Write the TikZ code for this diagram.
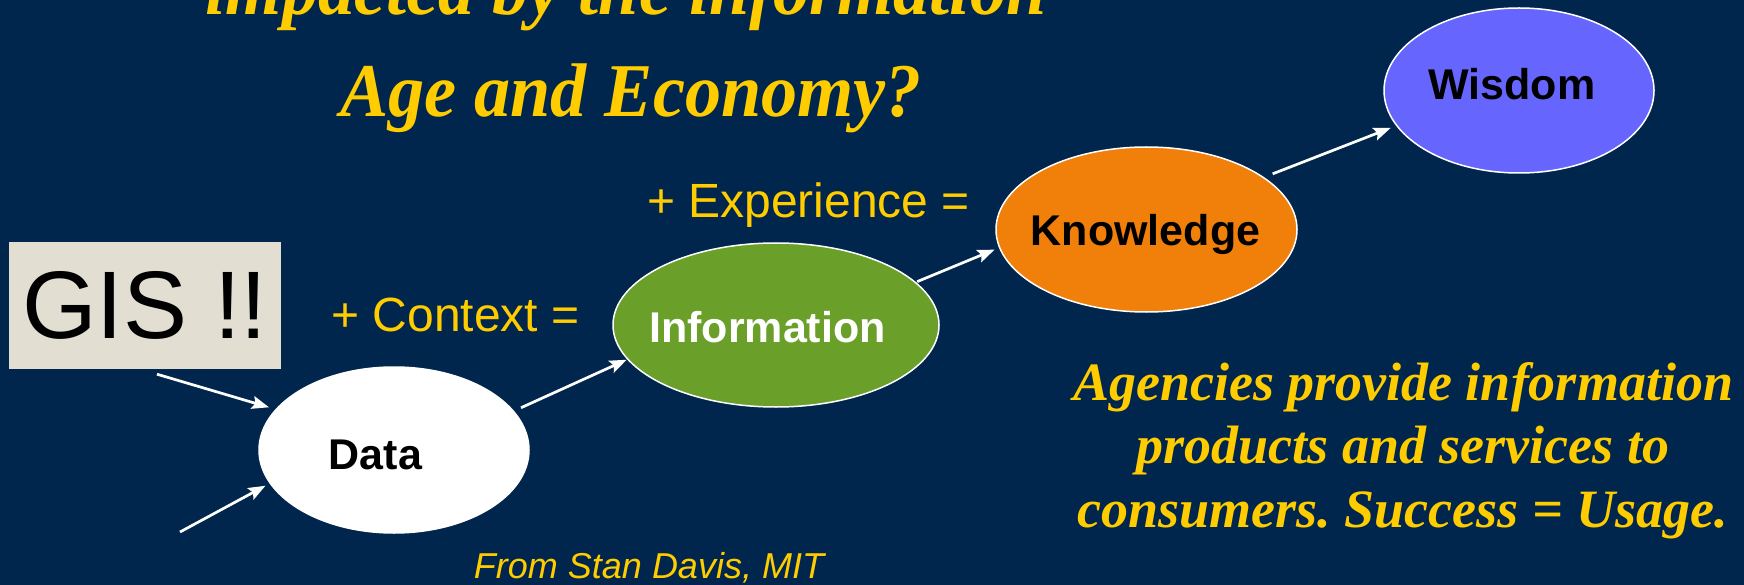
\documentclass[tikz,border=0pt]{standalone}
\usepackage{fontspec}
\setmainfont{Liberation Serif}
\newfontfamily\arialf{Liberation Sans}
\usetikzlibrary{arrows.meta,shapes.geometric}
\definecolor{bg}{RGB}{0,38,77}
\definecolor{gold}{RGB}{255,204,0}
\definecolor{infogreen}{RGB}{106,160,42}
\definecolor{knoworange}{RGB}{240,128,10}
\definecolor{wisblue}{RGB}{102,102,255}
\definecolor{gisbg}{RGB}{227,222,210}
\frenchspacing
\tikzset{
  ell/.style={ellipse, draw=white, line width=1.5pt, inner sep=0pt, outer sep=0pt},
  nlbl/.style={font=\arialf\bfseries\fontsize{43}{50}\selectfont, anchor=base, inner sep=0pt},
  plus/.style={font=\arialf\fontsize{48}{56}\selectfont, text=gold, anchor=base, inner sep=0pt},
  titlef/.style={font=\bfseries\itshape\fontsize{76}{90}\selectfont, text=gold, anchor=base, inner sep=0pt},
  agf/.style={font=\bfseries\itshape\fontsize{54}{63}\selectfont, text=gold, anchor=base, inner sep=0pt},
  arr/.style={draw=white, line width=2.7pt, -{Stealth[length=17pt,width=13pt,inset=3pt]}}
}
\begin{document}
\begin{tikzpicture}[x=1pt,y=-1pt]
\fill[bg] (0,0) rectangle (1744,585);
\useasboundingbox (0,0) rectangle (1744,585);
\clip (0,0) rectangle (1744,585);

% title
\node[titlef] (t1) at (626,15) {\scalebox{0.95}[1]{impacted by the information}};
\node[titlef] (t2) at (631,117) {\scalebox{0.95}[1]{Age and Economy?}};

% GIS box
\node[fill=gisbg, minimum width=272pt, minimum height=127pt, inner sep=0pt,
      font=\arialf\fontsize{96}{110}\selectfont] (gis) at (145,305.5) {GIS !!};

% ellipses
\node[ell, fill=white, minimum width=270pt, minimum height=166pt] (data) at (394,450) {};
\node[ell, fill=infogreen, minimum width=326pt, minimum height=164pt] (info) at (776,325) {};
\node[ell, fill=knoworange, minimum width=301pt, minimum height=165pt] (know) at (1146.5,229.5) {};
\node[ell, fill=wisblue, minimum width=270pt, minimum height=165pt] (wis) at (1519,90.5) {};

\node[nlbl, text=black] (datalbl) at (375.5,469) {Data};
\node[nlbl, text=white] (infolbl) at (767.5,342) {Information};
\node[nlbl, text=black] (knowlbl) at (1145.5,246) {Knowledge};
\node[nlbl, text=black] (wislbl) at (1512,100) {Wisdom};

% operator labels
\node[plus] (ctx) at (455.5,331) {+ Context =};
\node[plus] (exp) at (808.5,218) {+ Experience =};

% arrows
\coordinate (src) at (180,532);
\draw[arr, shorten >=7.6pt] ([shift={(12pt,-5pt)}]gis.south) -- (data.161);
\draw[arr, shorten >=5.5pt] (src) -- (data.195.7);
\draw[arr, shorten <=8.4pt, shorten >=1.3pt] (data.18.85) -- (info.193.7);
\draw[arr, shorten <=2pt, shorten >=5.5pt] (info.17.94) -- (know.187.7);
\draw[arr, shorten <=10pt, shorten >=6.6pt] (know.24.24) -- (wis.196.3);

% right text
\node[agf] (ag1) at (1403,400) {Agencies provide information};
\node[agf] (ag2) at (1403,463) {products and services to};
\node[agf] (ag3) at (1403,527) {consumers. Success = Usage.};

% footer
\node[font=\arialf\itshape\fontsize{36}{42}\selectfont, text=gold, anchor=base, inner sep=0pt] (src2) at (649,578) {From Stan Davis, MIT};
\end{tikzpicture}
\end{document}
